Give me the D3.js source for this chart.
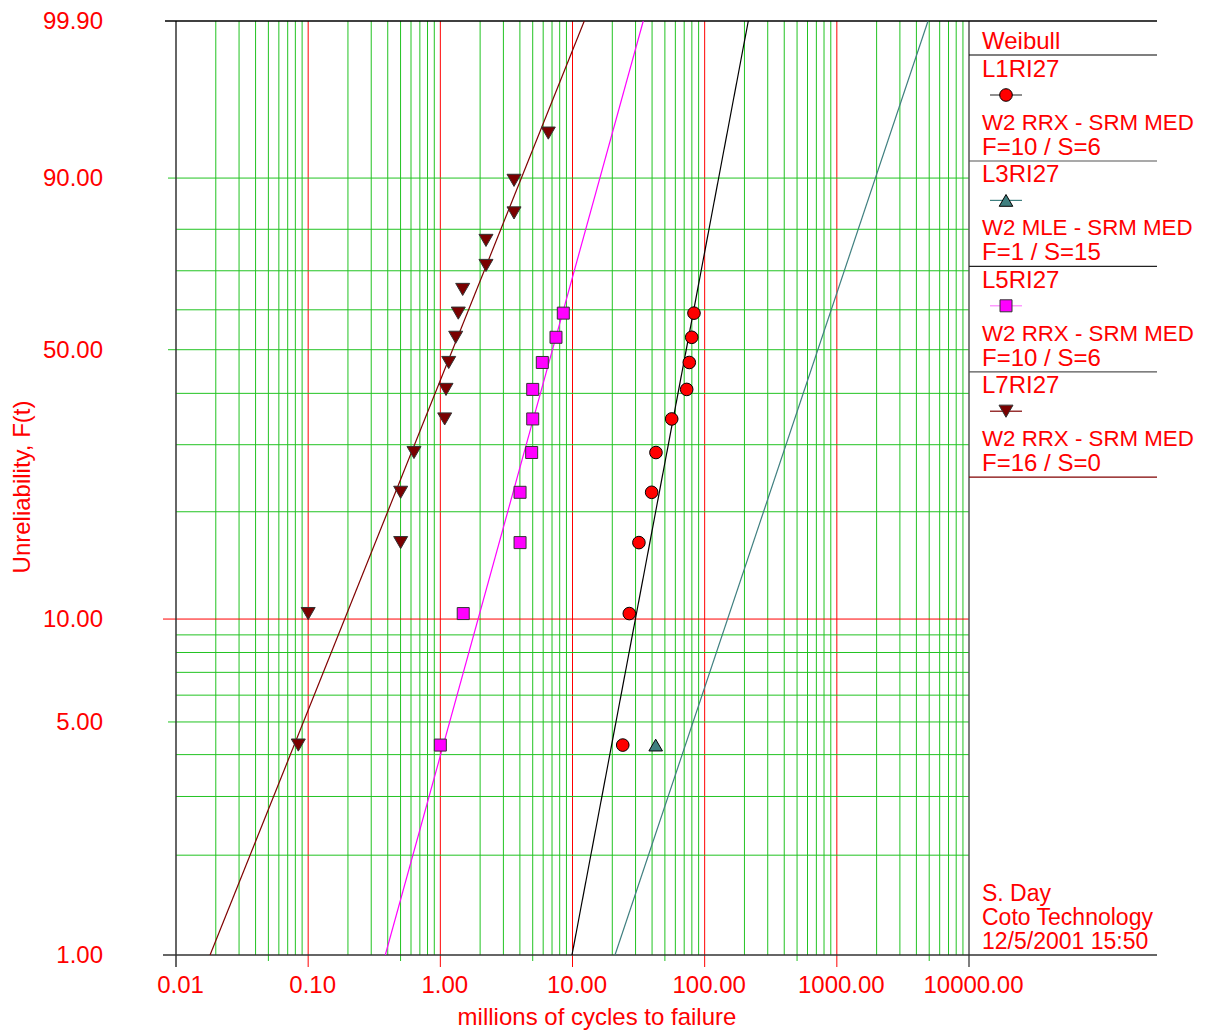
<!DOCTYPE html>
<html>
<head>
<meta charset="utf-8">
<script src="https://cdn.jsdelivr.net/npm/d3@7"></script>
<style>
  body { margin: 0; background: #fff; }
  text { font-family: "Liberation Sans", Arial, sans-serif; fill: #ff0000; }
</style>
</head>
<body>
<div id="chart"></div>
<script>
// Weibull probability plot - 4 data sets, median ranks

// unreliability (%) of each plotted rank
const rankPct = [4.27, 10.37, 16.46, 22.56, 28.66, 34.76, 40.85, 46.95,
                 53.05, 59.15, 65.24, 71.34, 77.44, 83.54, 89.63, 95.73];

// failure times, millions of cycles
const l1Times = [24.0, 26.9, 31.8, 39.7, 42.8, 56.3, 73.1, 76.5, 79.8, 83.0];
const l3Times = [42.6];
const l5Times = [1.0, 1.49, 4.01, 4.01, 4.91, 5.0, 5.0, 5.91, 7.5, 8.52];
const l7Times = [0.0842, 0.1, 0.501, 0.501, 0.632, 1.079, 1.104, 1.157,
                 1.307, 1.367, 1.476, 2.215, 2.215, 3.61, 3.61, 6.56];

// fitted lines: time where each line meets F=1% and F=99.9%
const fitPct = [1, 99.9];
const l1Fit = [9.91, 213.8];
const l3Fit = [20.97, 4897];
const l5Fit = [0.3834, 34.3];
const l7Fit = [0.0181, 12.28];

const seriesNames = ["L1RI27", "L3RI27", "L5RI27", "L7RI27"];
const seriesMethods = ["W2 RRX - SRM MED", "W2 MLE - SRM MED", "W2 RRX - SRM MED", "W2 RRX - SRM MED"];
const seriesCounts = ["F=10 / S=6", "F=1 / S=15", "F=10 / S=6", "F=16 / S=0"];

const xDecades = [0.01, 0.1, 1, 10, 100, 1000, 10000];
const yLabelPct = [99.9, 90, 50, 10, 5, 1];
const yGridPct = [90, 80, 70, 60, 50, 40, 30, 20, 9, 8, 7, 6, 5, 4, 3, 2];
const notes = ["S. Day", "Coto Technology", "12/5/2001 15:50"];

const W = 1209, H = 1032;
const plot = { left: 176, right: 969, top: 21, bottom: 955 };

const svg = d3.select("#chart").append("svg")
    .attr("width", W).attr("height", H);

const weib = p => Math.log(-Math.log(1 - p / 100));

const x = d3.scaleLog().domain([0.01, 10000]).range([plot.left, plot.right]);
const yW = d3.scaleLinear().domain([weib(1), weib(99.9)]).range([plot.bottom, plot.top]);
const y = p => yW(weib(p));

const green = "#22c322";

// vertical grid
const minor = [];
xDecades.slice(0, -1).forEach(d => { for (let k = 2; k <= 9; k++) minor.push(d * k); });

svg.append("g").selectAll("line").data(minor).enter().append("line")
    .attr("x1", d => x(d)).attr("x2", d => x(d))
    .attr("y1", plot.top)
    .attr("y2", d => Math.abs(d / Math.pow(10, Math.floor(Math.log10(d) + 1e-9)) - 5) < 1e-6 ? plot.bottom + 6 : plot.bottom)
    .attr("stroke", green).attr("stroke-width", 1);

svg.append("g").selectAll("line").data(xDecades.slice(1, -1)).enter().append("line")
    .attr("x1", d => x(d)).attr("x2", d => x(d))
    .attr("y1", plot.top).attr("y2", plot.bottom + 12)
    .attr("stroke", "#ff0000").attr("stroke-width", 1);

// horizontal grid
svg.append("g").selectAll("line").data(yGridPct).enter().append("line")
    .attr("x1", d => (d === 90 || d === 50 || d === 5) ? plot.left - 8 : plot.left)
    .attr("x2", plot.right)
    .attr("y1", d => y(d)).attr("y2", d => y(d))
    .attr("stroke", green).attr("stroke-width", 1);

svg.append("line")
    .attr("x1", plot.left - 13).attr("x2", plot.right)
    .attr("y1", y(10)).attr("y2", y(10))
    .attr("stroke", "#ff0000").attr("stroke-width", 1);

// frame
svg.append("line").attr("x1", plot.left).attr("x2", plot.left)
    .attr("y1", plot.top).attr("y2", plot.bottom + 12)
    .attr("stroke", "#333").attr("stroke-width", 1.5);
svg.append("line").attr("x1", plot.right).attr("x2", plot.right)
    .attr("y1", plot.top).attr("y2", plot.bottom + 12)
    .attr("stroke", "#555").attr("stroke-width", 1.5);
svg.append("line").attr("x1", plot.left - 11).attr("x2", 1157)
    .attr("y1", plot.top).attr("y2", plot.top)
    .attr("stroke", "#000").attr("stroke-width", 1.5);
svg.append("line").attr("x1", plot.left - 13).attr("x2", 1157)
    .attr("y1", plot.bottom).attr("y2", plot.bottom)
    .attr("stroke", "#333").attr("stroke-width", 1.5);

// axis labels
const xAxis = svg.append("g")
    .attr("transform", `translate(0,${plot.bottom})`)
    .call(d3.axisBottom(x).tickValues(xDecades).tickFormat(d3.format(".2f")).tickSize(0));
xAxis.select(".domain").remove();
xAxis.selectAll("text")
    .attr("y", 38).attr("dy", 0).attr("dx", 4)
    .style("font-size", "24px").style("fill", "#ff0000")
    .style("font-family", "'Liberation Sans', Arial, sans-serif");

const yAxis = svg.append("g").attr("transform", "translate(103,0)");
yAxis.selectAll("text").data(yLabelPct).enter().append("text")
    .attr("x", 0).attr("y", d => y(d)).attr("dy", "0.34em")
    .attr("text-anchor", "end").style("font-size", "24px")
    .text(d => d3.format(".2f")(d));

svg.append("text")
    .attr("transform", "translate(30,487) rotate(-90)")
    .attr("text-anchor", "middle").style("font-size", "24px")
    .text("Unreliability, F(t)");

svg.append("text")
    .attr("x", 597).attr("y", 1025)
    .attr("text-anchor", "middle").style("font-size", "24px")
    .text("millions of cycles to failure");

// series
const series = [
  { times: l1Times, fit: l1Fit, line: "#000000", fill: "#ff0000", stroke: "#000", sym: d3.symbolCircle, size: 125, rot: 0, leg: "#444" },
  { times: l3Times, fit: l3Fit, line: "#3f7f7f", fill: "#3f7f7f", stroke: "#000", sym: d3.symbolTriangle, size: 80, rot: 0, leg: "#3f7f7f" },
  { times: l5Times, fit: l5Fit, line: "#ff00ff", fill: "#ff00ff", stroke: "#333", sym: d3.symbolSquare, size: 144, rot: 0, leg: "#ff80ff" },
  { times: l7Times, fit: l7Fit, line: "#800000", fill: "#7a0000", stroke: "#333", sym: d3.symbolTriangle, size: 85, rot: 180, leg: "#800000" }
];

// d3 triangles are centred on their centroid; shift so the box centre sits on the point
const symOffset = s => s.sym === d3.symbolTriangle ? Math.sqrt(s.size / (Math.sqrt(3) * 3)) / 2 : 0;
const markTransform = (s, px, py) => `translate(${px},${py}) rotate(${s.rot}) translate(0,${symOffset(s)})`;

svg.append("defs").append("clipPath").attr("id", "plotclip")
    .append("rect").attr("x", plot.left).attr("y", plot.top)
    .attr("width", plot.right - plot.left).attr("height", plot.bottom - plot.top);

const fitLine = d3.line().x(d => x(d.t)).y(d => y(d.p));

series.forEach(s => {
  svg.append("path")
      .datum(s.fit.map((t, i) => ({ t: t, p: fitPct[i] })))
      .attr("d", fitLine)
      .attr("clip-path", "url(#plotclip)")
      .attr("fill", "none").attr("stroke", s.line).attr("stroke-width", 1.2);
});

series.forEach(s => {
  svg.append("g").selectAll("path")
      .data(s.times.map((t, i) => ({ t: t, p: rankPct[i] })))
      .enter().append("path")
      .attr("d", d3.symbol().type(s.sym).size(s.size))
      .attr("transform", d => markTransform(s, x(d.t), y(d.p)))
      .attr("fill", s.fill).attr("stroke", s.stroke).attr("stroke-width", 1);
});

// legend
const legX = 982;
svg.append("text").attr("x", legX).attr("y", 49).style("font-size", "24px").text("Weibull");
svg.append("line").attr("x1", plot.right).attr("x2", 1157).attr("y1", 55).attr("y2", 55)
    .attr("stroke", "#000").attr("stroke-width", 1.2);

const sepColors = ["#555", "#222", "#555", "#800000"];
series.forEach((s, i) => {
  const base = 77 + i * 105.4;
  const g = svg.append("g");
  g.append("text").attr("x", legX).attr("y", base).style("font-size", "24px").text(seriesNames[i]);
  g.append("line").attr("x1", 990).attr("x2", 1022).attr("y1", base + 18).attr("y2", base + 18)
      .attr("stroke", s.leg).attr("stroke-width", 1.2);
  g.append("path")
      .attr("d", d3.symbol().type(s.sym).size(s.size))
      .attr("transform", markTransform(s, 1006, base + 18))
      .attr("fill", s.fill).attr("stroke", s.stroke).attr("stroke-width", 1);
  g.append("text").attr("x", legX).attr("y", base + 53).style("font-size", "22.3px").text(seriesMethods[i]);
  g.append("text").attr("x", legX).attr("y", base + 78).style("font-size", "24px").text(seriesCounts[i]);
  g.append("line").attr("x1", plot.right).attr("x2", 1157)
      .attr("y1", base + 84).attr("y2", base + 84)
      .attr("stroke", sepColors[i]).attr("stroke-width", 1.2);
});

// notes
svg.append("g").selectAll("text").data(notes).enter().append("text")
    .attr("x", legX).attr("y", (d, i) => 901 + i * 24)
    .style("font-size", "23px").text(d => d);
</script>
</body>
</html>
